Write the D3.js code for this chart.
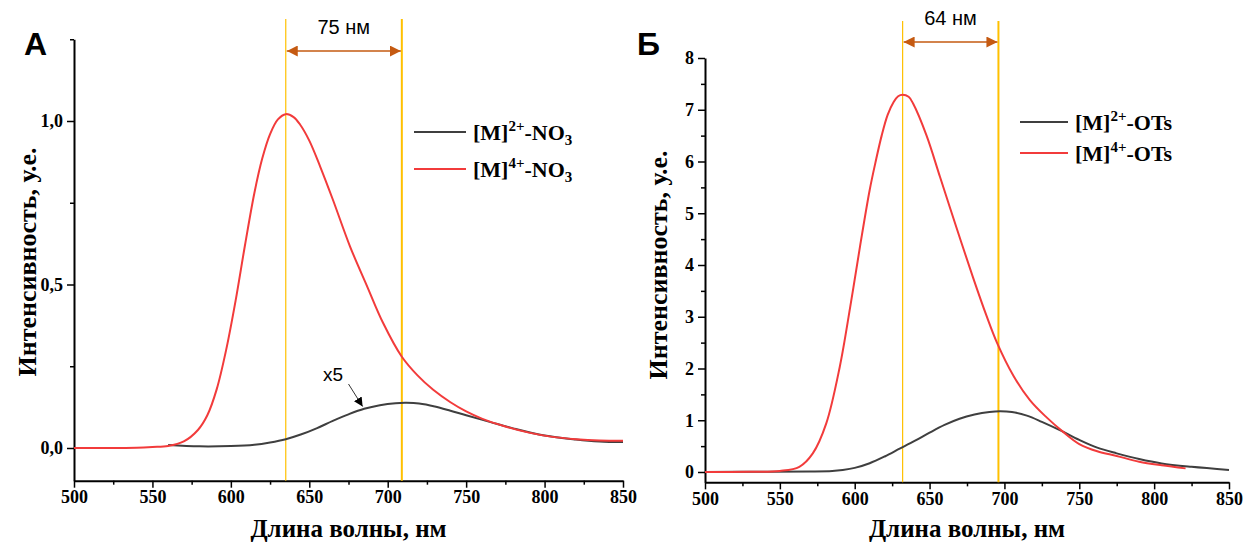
<!DOCTYPE html>
<html>
<head>
<meta charset="utf-8">
<script src="https://cdn.jsdelivr.net/npm/d3@7"></script>
<style>
  body { margin: 0; background: #fff; }
  svg { display: block; }
</style>
</head>
<body>
<svg id="chart" width="1244" height="546"></svg>
<script>
// --- panel A data (NO3) ---
var nmA_M4 = [500, 520, 540, 550, 560, 570, 579, 585, 591, 597, 603, 609, 615, 620, 625, 630, 635, 640, 644, 650, 657, 665, 676, 687, 697, 709, 719, 729, 740, 750, 760, 775, 790, 805, 820, 835, 850];
var intA_M4 = [0, 0, 0.001, 0.003, 0.006, 0.02, 0.055, 0.1, 0.18, 0.3, 0.45, 0.62, 0.78, 0.885, 0.96, 1.005, 1.021, 1.012, 0.99, 0.94, 0.86, 0.76, 0.616, 0.493, 0.383, 0.279, 0.222, 0.178, 0.14, 0.112, 0.09, 0.066, 0.047, 0.034, 0.027, 0.023, 0.022];
var nmA_M2 = [560, 580, 600, 615, 625, 635, 645, 655, 665, 675, 685, 695, 705, 712, 720, 730, 740, 750, 765, 780, 800, 820, 835, 850];
var intA_M2 = [0.009, 0.005, 0.006, 0.01, 0.017, 0.027, 0.042, 0.061, 0.083, 0.103, 0.12, 0.131, 0.137, 0.138, 0.136, 0.127, 0.114, 0.1, 0.08, 0.06, 0.038, 0.026, 0.02, 0.018];

// --- panel B data (OTs) ---
var nmB_M4 = [500, 530, 550, 563, 572, 581, 590, 597, 603.5, 610, 614, 618, 622, 626, 629, 632, 636, 639, 648, 657, 668, 679, 688, 695, 706, 717, 728, 739, 750, 762, 775, 790, 805, 821];
var intB_M4 = [0, 0.005, 0.02, 0.1, 0.36, 0.94, 2.03, 3.19, 4.35, 5.45, 6.0, 6.5, 6.9, 7.15, 7.26, 7.29, 7.25, 7.12, 6.5, 5.7, 4.72, 3.76, 3.02, 2.5, 1.86, 1.39, 1.06, 0.78, 0.54, 0.4, 0.31, 0.2, 0.13, 0.07];
var nmB_M2 = [500, 540, 570, 585, 592, 600, 610, 620, 630, 640, 650, 660, 670, 680, 690, 697, 705, 715, 725, 737, 750, 762, 775, 790, 805, 825, 850];
var intB_M2 = [0, 0.005, 0.01, 0.02, 0.04, 0.08, 0.17, 0.3, 0.45, 0.6, 0.76, 0.91, 1.03, 1.11, 1.16, 1.175, 1.16, 1.09, 0.97, 0.81, 0.62, 0.47, 0.36, 0.25, 0.165, 0.1, 0.04];

var xTicks = [500, 550, 600, 650, 700, 750, 800, 850];
var yTicksA = [0, 0.5, 1.0];
var yTicksB = [0, 1, 2, 3, 4, 5, 6, 7, 8];
var markersA = [635, 709]; // peak positions
var markersB = [632, 696];

var svg = d3.select('#chart');
var defs = svg.append('defs');
function arrowMarker(id, color, size, orient) {
  defs.append('marker')
    .attr('id', id)
    .attr('viewBox', '0 0 10 10')
    .attr('refX', 10).attr('refY', 5)
    .attr('markerWidth', size).attr('markerHeight', size)
    .attr('markerUnits', 'userSpaceOnUse')
    .attr('orient', orient)
    .append('path')
    .attr('d', 'M0,0 L10,5 L0,10 Z')
    .style('fill', color);
}
arrowMarker('brownArrow', '#c55a11', 11, 'auto-start-reverse');
arrowMarker('blackArrow', '#000', 9, 'auto');

var serif = '"Liberation Serif", "Times New Roman", serif';
var sans = '"Liberation Sans", Arial, sans-serif';

function zip(a, b) {
  return a.map(function(d, i) { return [d, b[i]]; });
}

function styleAxis(s) {
  s.select('.domain').style('stroke-width', 2);
  s.selectAll('line').style('stroke-width', 1.5);
  s.selectAll('text')
    .style('font-family', serif).style('font-weight', 'bold')
    .style('font-size', '18px').style('fill', '#000');
}

function drawPanel(cfg) {
  var x = d3.scaleLinear().domain([500, 850]).range(cfg.xRange);
  var y = d3.scaleLinear().domain(cfg.yDomain).range(cfg.yRange);
  var g = svg.append('g');

  // minor ticks
  var xMinor = d3.range(525, 850, 50);
  g.append('g')
    .attr('transform', 'translate(0,' + cfg.yRange[0] + ')')
    .call(d3.axisBottom(x).tickValues(xMinor).tickSize(4).tickFormat('').tickSizeOuter(0))
    .call(function(s) { s.select('.domain').remove(); s.selectAll('line').style('stroke-width', 1.5); });
  g.append('g')
    .attr('transform', 'translate(' + cfg.xRange[0] + ',0)')
    .call(d3.axisLeft(y).tickValues(cfg.yMinor).tickSize(4).tickFormat('').tickSizeOuter(0))
    .call(function(s) { s.select('.domain').remove(); s.selectAll('line').style('stroke-width', 1.5); });

  // major axes
  g.append('g')
    .attr('transform', 'translate(0,' + cfg.yRange[0] + ')')
    .call(d3.axisBottom(x).tickValues(xTicks).tickSize(7).tickPadding(3).tickSizeOuter(0))
    .call(styleAxis);
  g.append('g')
    .attr('transform', 'translate(' + cfg.xRange[0] + ',0)')
    .call(d3.axisLeft(y).tickValues(cfg.yTicks).tickSize(7).tickPadding(4).tickSizeOuter(0).tickFormat(cfg.yFormat))
    .call(styleAxis);

  // peak marker lines
  cfg.markers.forEach(function(m, i) {
    g.append('line')
      .attr('x1', x(m)).attr('x2', x(m))
      .attr('y1', cfg.markTop).attr('y2', cfg.yRange[0])
      .style('stroke', '#ffc000')
      .style('stroke-width', i === 0 ? 1.2 : 2);
  });

  // curves
  var line = d3.line()
    .x(function(d) { return x(d[0]); })
    .y(function(d) { return y(d[1]); })
    .curve(d3.curveCatmullRom.alpha(0.5));
  g.append('path').datum(zip(cfg.nmM2, cfg.intM2))
    .attr('d', line)
    .style('fill', 'none').style('stroke', '#3f3f3f').style('stroke-width', 2);
  g.append('path').datum(zip(cfg.nmM4, cfg.intM4))
    .attr('d', line)
    .style('fill', 'none').style('stroke', '#f23b3b').style('stroke-width', 2);

  // width arrow + label
  g.append('line')
    .attr('x1', x(cfg.markers[0]) + 1).attr('x2', x(cfg.markers[1]) - 1)
    .attr('y1', cfg.arrowY).attr('y2', cfg.arrowY)
    .style('stroke', '#c55a11').style('stroke-width', 1.6)
    .attr('marker-start', 'url(#brownArrow)')
    .attr('marker-end', 'url(#brownArrow)');
  g.append('text')
    .attr('x', (x(cfg.markers[0]) + x(cfg.markers[1])) / 2)
    .attr('y', cfg.arrowY - 17)
    .attr('text-anchor', 'middle')
    .style('font-family', sans).style('font-size', '20px')
    .text(cfg.widthLabel);

  // panel letter
  g.append('text')
    .attr('x', cfg.letterX).attr('y', 55)
    .style('font-family', sans).style('font-weight', 'bold').style('font-size', '32px')
    .text(cfg.letter);

  // axis titles
  g.append('text')
    .attr('x', (cfg.xRange[0] + cfg.xRange[1]) / 2).attr('y', 537)
    .attr('text-anchor', 'middle')
    .style('font-family', serif).style('font-weight', 'bold').style('font-size', '25px')
    .text('Длина волны, нм');
  g.append('text')
    .attr('transform', 'translate(' + cfg.yTitleX + ',' + cfg.yTitleY + ') rotate(-90)')
    .attr('text-anchor', 'middle')
    .style('font-family', serif).style('font-weight', 'bold').style('font-size', '26px')
    .text('Интенсивность, у.е.');

  // legend
  var entries = [
    { color: '#3f3f3f', sup: '2+' },
    { color: '#f23b3b', sup: '4+' }
  ];
  entries.forEach(function(e, i) {
    var ly = cfg.legY + i * cfg.legStep;
    g.append('line')
      .attr('x1', cfg.legX).attr('x2', cfg.legX + cfg.legLen)
      .attr('y1', ly).attr('y2', ly)
      .style('stroke', e.color).style('stroke-width', 2);
    var t = g.append('text')
      .attr('x', cfg.legX + cfg.legLen + 7).attr('y', ly + 8)
      .style('font-family', serif).style('font-weight', 'bold').style('font-size', '22px');
    t.append('tspan').text('[M]');
    t.append('tspan').attr('dy', -9).style('font-size', '15px').text(e.sup);
    t.append('tspan').attr('dy', 9).text(cfg.anion);
    if (cfg.anionSub) {
      t.append('tspan').attr('dy', 5).style('font-size', '15px').text(cfg.anionSub);
    }
  });
  return { x: x, y: y, g: g };
}

var fmtComma = function(d) { return d3.format('.1f')(d).replace('.', ','); };

var pA = drawPanel({
  xRange: [74, 623], yDomain: [-0.1, 1.25], yRange: [480.7, 39.25],
  yTicks: yTicksA, yMinor: [0.25, 0.75, 1.25], yFormat: fmtComma,
  markers: markersA, markTop: 19, arrowY: 51, widthLabel: '75 нм',
  nmM2: nmA_M2, intM2: intA_M2, nmM4: nmA_M4, intM4: intA_M4,
  letter: 'А', letterX: 24, yTitleX: 36, yTitleY: 262,
  legX: 414, legY: 132, legStep: 37, legLen: 52, anion: '-NO', anionSub: '3'
});

var pB = drawPanel({
  xRange: [705, 1229], yDomain: [-0.2, 8], yRange: [482.35, 58],
  yTicks: yTicksB, yMinor: d3.range(0.5, 8, 1), yFormat: d3.format('d'),
  markers: markersB, markTop: 21, arrowY: 42, widthLabel: '64 нм',
  nmM2: nmB_M2, intM2: intB_M2, nmM4: nmB_M4, intM4: intB_M4,
  letter: 'Б', letterX: 637, yTitleX: 667, yTitleY: 265,
  legX: 1020, legY: 122, legStep: 31, legLen: 48, anion: '-OTs', anionSub: null
});

// "x5" note pointing at the scaled-up NO3 curve
pA.g.append('text')
  .attr('x', 323).attr('y', 381)
  .style('font-family', sans).style('font-size', '19px')
  .text('x5');
pA.g.append('line')
  .attr('x1', pA.x(675)).attr('y1', 384)
  .attr('x2', pA.x(684)).attr('y2', pA.y(0.127))
  .style('stroke', '#000').style('stroke-width', 0.8)
  .attr('marker-end', 'url(#blackArrow)');
</script>
</body>
</html>
